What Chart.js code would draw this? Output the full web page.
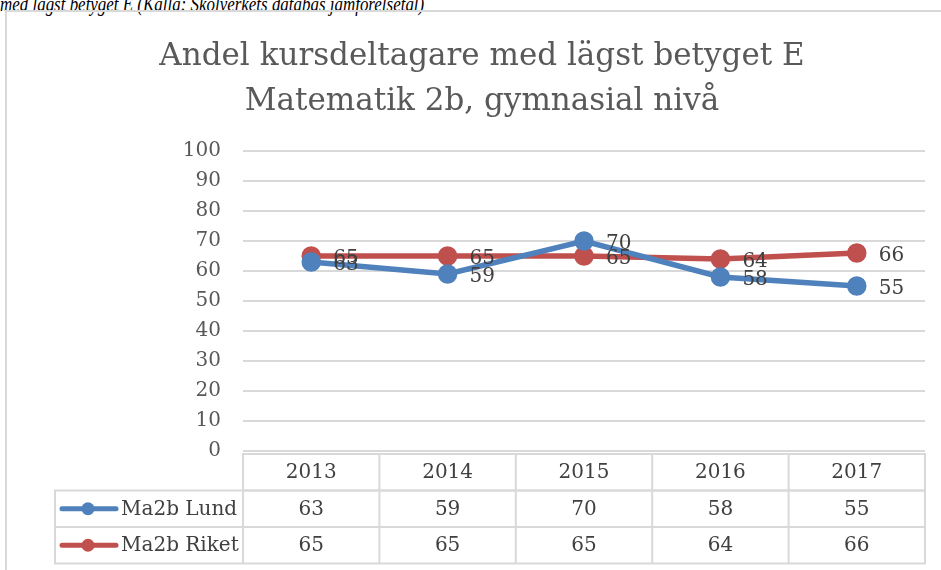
<!DOCTYPE html>
<html>
<head>
<meta charset="utf-8">
<script src="https://cdn.jsdelivr.net/npm/chart.js@4.4.1/dist/chart.umd.min.js"></script>
<style>
  html, body { margin: 0; padding: 0; background: #fff; overflow: hidden; }
  #wrap { position: relative; width: 941px; height: 570px; }
  #caption {
    position: absolute; left: 0; top: -9px; white-space: nowrap;
    font: italic 22px "Liberation Serif", serif; color: #000;
    transform: scaleX(0.77); transform-origin: 0 0;
  }
  canvas { position: absolute; left: 0; top: 0; }
</style>
</head>
<body>
<div id="wrap">
  <div id="caption">med lägst betyget E (Källa: Skolverkets databas jämförelsetal)</div>
  <canvas id="lineChart" width="941" height="570"></canvas>
</div>
<script>
const years = ['2013', '2014', '2015', '2016', '2017'];
const lund = [63, 59, 70, 58, 55];
const riket = [65, 65, 65, 64, 66];
const seriesNames = ['Ma2b Lund', 'Ma2b Riket'];
const titleLines = ['Andel kursdeltagare med lägst betyget E', 'Matematik 2b, gymnasial nivå'];

const BLUE = '#4F81BD';
const RED = '#C0504D';
const SERIF = '"DejaVu Serif", serif';

// frame, title, point labels and the data table under the plot
const extras = {
  id: 'extras',
  beforeDraw(chart) {
    const ctx = chart.ctx;
    ctx.save();
    ctx.strokeStyle = '#d9d9d9';
    ctx.lineWidth = 2;
    ctx.strokeRect(6, 11, 960, 580);
    ctx.fillStyle = '#595959';
    ctx.font = '31px ' + SERIF;
    ctx.textAlign = 'center';
    ctx.textBaseline = 'alphabetic';
    ctx.fillText(titleLines[0], 482, 65);
    ctx.fillText(titleLines[1], 482, 110);
    ctx.restore();
  },
  afterDatasetsDraw(chart) {
    const ctx = chart.ctx;
    ctx.save();
    ctx.font = '20px ' + SERIF;
    ctx.fillStyle = '#404040';
    ctx.textAlign = 'left';
    ctx.textBaseline = 'middle';
    chart.data.datasets.forEach((ds, i) => {
      chart.getDatasetMeta(i).data.forEach((pt, j) => {
        ctx.fillText(String(ds.data[j]), pt.x + 22, pt.y + 3);
      });
    });
    ctx.restore();
  },
  afterDraw(chart) {
    const ctx = chart.ctx;
    const x = chart.scales.x;
    const area = chart.chartArea;
    const step = x.getPixelForValue(1) - x.getPixelForValue(0);
    const rowH = 36.5;
    const top = area.bottom + 3;
    const keyLeft = 55;
    ctx.save();
    ctx.strokeStyle = '#d9d9d9';
    ctx.lineWidth = 2;
    // header row
    ctx.strokeRect(area.left, top, area.right - area.left, rowH);
    // series rows
    ctx.strokeRect(keyLeft, top + rowH, area.right - keyLeft, rowH * 2);
    ctx.beginPath();
    ctx.moveTo(keyLeft, top + rowH * 2);
    ctx.lineTo(area.right, top + rowH * 2);
    for (let i = 0; i < years.length; i++) {
      const bx = x.getPixelForValue(i) - step / 2;
      ctx.moveTo(bx, top);
      ctx.lineTo(bx, top + rowH * 3);
    }
    ctx.stroke();

    ctx.font = '20px ' + SERIF;
    ctx.fillStyle = '#404040';
    ctx.textAlign = 'center';
    ctx.textBaseline = 'middle';
    years.forEach((y, i) => {
      const cx = x.getPixelForValue(i);
      ctx.fillText(y, cx, top + rowH / 2 + 1);
      ctx.fillText(String(lund[i]), cx, top + rowH * 1.5 + 1);
      ctx.fillText(String(riket[i]), cx, top + rowH * 2.5 + 1);
    });

    // legend keys
    [BLUE, RED].forEach((c, k) => {
      const cy = top + rowH * (1.5 + k);
      ctx.strokeStyle = c;
      ctx.lineWidth = 5;
      ctx.lineCap = 'round';
      ctx.beginPath();
      ctx.moveTo(62, cy);
      ctx.lineTo(116, cy);
      ctx.stroke();
      ctx.fillStyle = c;
      ctx.beginPath();
      ctx.arc(88, cy, 6.5, 0, Math.PI * 2);
      ctx.fill();
      ctx.fillStyle = '#404040';
      ctx.textAlign = 'left';
      ctx.fillText(seriesNames[k], 121, cy + 1);
    });
    ctx.restore();
  }
};

const canvas = document.getElementById('lineChart').getContext('2d');
new Chart(canvas, {
  type: 'line',
  data: {
    labels: years,
    datasets: [
      { label: seriesNames[0], data: lund, borderColor: BLUE, backgroundColor: BLUE, borderWidth: 5.5, pointRadius: 7, pointHoverRadius: 7 },
      { label: seriesNames[1], data: riket, borderColor: RED, backgroundColor: RED, borderWidth: 5.5, pointRadius: 7, pointHoverRadius: 7 }
    ]
  },
  options: {
    responsive: false,
    animation: false,
    events: [],
    layout: { padding: { left: 8, right: 16, top: 151, bottom: 119 } },
    plugins: { legend: { display: false }, title: { display: false }, tooltip: { enabled: false } },
    scales: {
      x: { display: false, offset: true },
      y: {
        min: 0, max: 100,
        ticks: { stepSize: 10, padding: 22, color: '#595959', font: { family: SERIF, size: 20 } },
        grid: { color: '#d9d9d9', lineWidth: 2, drawTicks: false },
        border: { display: false },
        afterFit(scale) { scale.width = 235; }
      }
    }
  },
  plugins: [extras]
});
</script>
</body>
</html>
